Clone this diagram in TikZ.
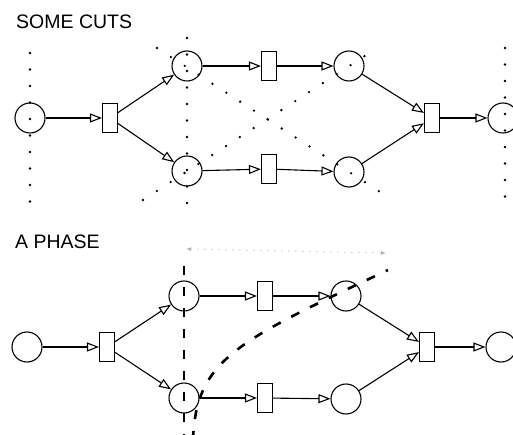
\documentclass[tikz,border=0pt]{standalone}
\usepackage{fontspec}
\setmainfont{Liberation Sans}
\usetikzlibrary{arrows.meta}
\tikzset{
  >={Triangle[open,length=12pt,width=9pt,line width=1.1pt]},
  % net elements
  pl/.style={circle,draw,line width=1.1pt,inner sep=0pt,minimum size=30pt},
  tr/.style={rectangle,draw,line width=1.1pt,inner sep=0pt,
             minimum width=15pt,minimum height=29pt},
  arc/.style={->,line width=1.1pt},
  hd/.style={font=\fontsize{19.5}{22}\selectfont,anchor=base west,inner sep=0pt},
  % cuts and phase
  cut/.style={line width=2.6pt,line cap=round,dash pattern=on 0pt off 16.5pt},
  phase/.style={line width=2.6pt,dash pattern=on 9pt off 12pt},
  span/.style={{Latex[length=5pt,width=4pt]}-{Latex[length=5pt,width=4pt]},
               gray!60,line width=1pt,dash pattern=on 1pt off 6pt},
}
\begin{document}
\begin{tikzpicture}[x=1pt,y=-1pt]
  \useasboundingbox (0,0) rectangle (513,435);
  % upper net
  \node[hd] (h1) at (16,29) {SOME CUTS};
  \node[pl] (p1) at (30,118) {};
  \node[tr] (t1) at (110,118) {};
  \node[pl] (p2) at (187,66) {};
  \node[pl] (p3) at (187,171) {};
  \node[tr] (t2) at (269,66) {};
  \node[tr] (t3) at (269,169) {};
  \node[pl] (p4) at (349,66) {};
  \node[pl] (p5) at (349,172) {};
  \node[tr] (t4) at (432,118) {};
  \node[pl] (p6) at (503,118) {};
  \draw[arc] (p1) -- (t1);
  \draw[arc] (t1) -- (p2);
  \draw[arc] (t1) -- (p3);
  \draw[arc] (p2) -- (t2);
  \draw[arc] (t2) -- (p4);
  \draw[arc] (p3) -- (t3);
  \draw[arc] (t3) -- (p5);
  \draw[arc] (p4) -- (t4);
  \draw[arc] (p5) -- (t4);
  \draw[arc] (t4) -- (p6);
  \draw[cut] (30,53) -- (30,203);
  \draw[cut] (187,38) -- (187,204);
  \draw[cut] (157,48) -- (391,199);
  \draw[cut] (143,200) -- (377,48);
  \draw[cut] (505,48) -- (505,197);
  % lower net
  \node[hd] (h2) at (15,249) {A PHASE};
  \node[pl] (q1) at (27,347) {};
  \node[tr] (u1) at (107,347) {};
  \node[pl] (q2) at (184,296) {};
  \node[pl] (q3) at (184,398) {};
  \node[tr] (u2) at (265,296) {};
  \node[tr] (u3) at (265,398) {};
  \node[pl] (q4) at (346,296) {};
  \node[pl] (q5) at (346,399) {};
  \node[tr] (u4) at (427,347) {};
  \node[pl] (q6) at (501,347) {};
  \draw[arc] (q1) -- (u1);
  \draw[arc] (u1) -- (q2);
  \draw[arc] (u1) -- (q3);
  \draw[arc] (q2) -- (u2);
  \draw[arc] (u2) -- (q4);
  \draw[arc] (q3) -- (u3);
  \draw[arc] (u3) -- (q5);
  \draw[arc] (q4) -- (u4);
  \draw[arc] (q5) -- (u4);
  \draw[arc] (u4) -- (q6);
  \coordinate (s1) at (186,249);
  \coordinate (s2) at (386,253);
  \draw[span] (s1) -- (s2);
  \draw[phase] (184,266) -- (184,440);
  \draw[phase] (193,440) .. controls (196,360) and (235,342) .. (388,270);
\end{tikzpicture}
\end{document}
